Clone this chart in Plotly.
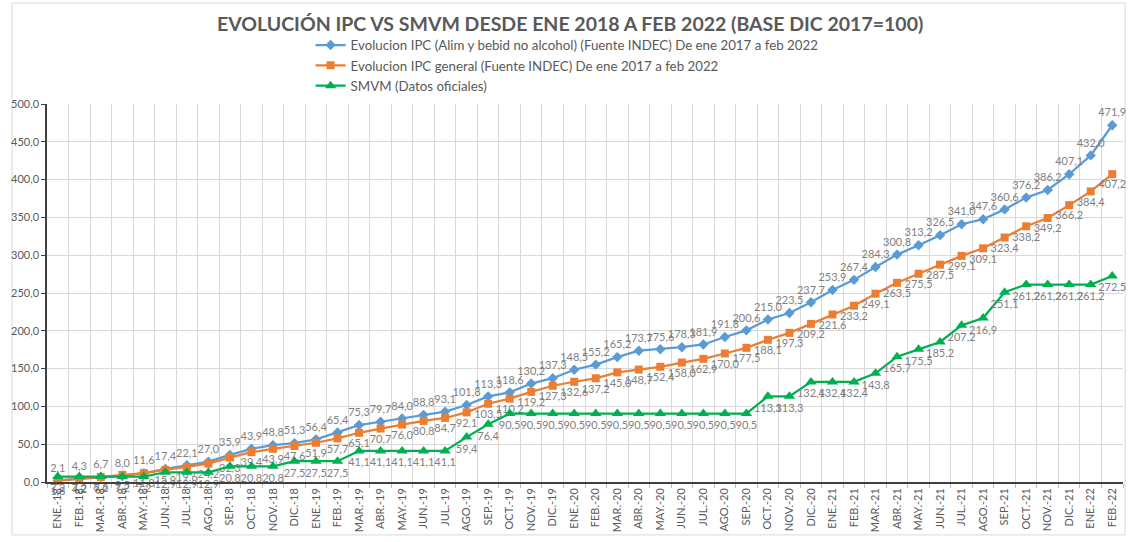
import plotly.graph_objects as go

months = ["ENE.-18","FEB.-18","MAR.-18","ABR.-18","MAY.-18","JUN.-18","JUL.-18","AGO.-18","SEP.-18","OCT.-18","NOV.-18","DIC.-18",
          "ENE.-19","FEB.-19","MAR.-19","ABR.-19","MAY.-19","JUN.-19","JUL.-19","AGO.-19","SEP.-19","OCT.-19","NOV.-19","DIC.-19",
          "ENE.-20","FEB.-20","MAR.-20","ABR.-20","MAY.-20","JUN.-20","JUL.-20","AGO.-20","SEP.-20","OCT.-20","NOV.-20","DIC.-20",
          "ENE.-21","FEB.-21","MAR.-21","ABR.-21","MAY.-21","JUN.-21","JUL.-21","AGO.-21","SEP.-21","OCT.-21","NOV.-21","DIC.-21",
          "ENE.-22","FEB.-22"]

ipc_alim = [2.1, 4.3, 6.7, 8.0, 11.6, 17.4, 22.1, 27.0, 35.9, 43.9, 48.8, 51.3,
            56.4, 65.4, 75.3, 79.7, 84.0, 88.8, 93.1, 101.8, 113.3, 118.6, 130.2, 137.3,
            148.5, 155.2, 165.2, 173.7, 175.6, 178.3, 181.9, 191.8, 200.6, 215.0, 223.5, 237.7,
            253.9, 267.4, 284.3, 300.8, 313.2, 326.5, 341.0, 347.6, 360.6, 376.2, 386.2, 407.1,
            432.0, 471.9]

ipc_general = [1.8, 4.2, 6.6, 9.5, 11.8, 15.9, 19.6, 24.2, 32.3, 39.4, 43.9, 47.6,
               51.9, 57.7, 65.1, 70.7, 76.0, 80.8, 84.7, 92.1, 103.5, 110.2, 119.2, 127.3,
               132.6, 137.2, 145.0, 148.7, 152.4, 158.0, 162.9, 170.0, 177.5, 188.1, 197.3, 209.2,
               221.6, 233.2, 249.1, 263.5, 275.5, 287.5, 299.1, 309.1, 323.4, 338.2, 349.2, 366.2,
               384.4, 407.2]

smvm = [7.2, 7.2, 7.2, 7.2, 7.2, 12.9, 12.9, 12.9, 20.8, 20.8, 20.8, 27.5,
        27.5, 27.5, 41.1, 41.1, 41.1, 41.1, 41.1, 59.4, 76.4, 90.5, 90.5, 90.5,
        90.5, 90.5, 90.5, 90.5, 90.5, 90.5, 90.5, 90.5, 90.5, 113.3, 113.3, 132.4,
        132.4, 132.4, 143.8, 165.7, 175.5, 185.2, 207.2, 216.9, 251.1, 261.2, 261.2, 261.2,
        261.2, 272.5]

names = ["Evolucion IPC (Alim y bebid no alcohol) (Fuente INDEC) De ene 2017 a feb 2022",
         "Evolucion IPC general (Fuente INDEC) De ene 2017 a feb 2022",
         "SMVM (Datos oficiales)"]

def lab(vals):
    return [f"{v:.1f}".replace(".", ",") for v in vals]

FONT = "Lato, Liberation Sans, sans-serif"
LABEL_COLOR = "#7f7f7f"

fig = go.Figure()
fig.add_trace(go.Scatter(x=months, y=ipc_alim, name=names[0], mode="lines+markers+text",
                         line=dict(color="#5B9BD5", width=2.25),
                         marker=dict(symbol="diamond", size=8, color="#5B9BD5"),
                         text=lab(ipc_alim), textposition="top center",
                         textfont=dict(size=11, color=LABEL_COLOR, family=FONT), cliponaxis=False))
fig.add_trace(go.Scatter(x=months, y=ipc_general, name=names[1], mode="lines+markers+text",
                         line=dict(color="#ED7D31", width=2.25),
                         marker=dict(symbol="square", size=8, color="#ED7D31"),
                         text=lab(ipc_general), textposition="bottom center",
                         textfont=dict(size=11, color=LABEL_COLOR, family=FONT), cliponaxis=False))
fig.add_trace(go.Scatter(x=months, y=smvm, name=names[2], mode="lines+markers+text",
                         line=dict(color="#00B050", width=2.25),
                         marker=dict(symbol="triangle-up", size=10, color="#00B050"),
                         text=lab(smvm), textposition="bottom center",
                         textfont=dict(size=11, color=LABEL_COLOR, family=FONT), cliponaxis=False))

fig.update_layout(
    width=1129, height=542,
    margin=dict(l=47, r=6, t=104, b=60),
    paper_bgcolor="white", plot_bgcolor="white",
    separators=",.",
    font=dict(family=FONT, color="#595959"),
    title=dict(text="<b>EVOLUCIÓN IPC VS SMVM DESDE ENE 2018 A FEB 2022 (BASE DIC 2017=100)</b>",
               x=0.505, xanchor="center", y=0.955, yanchor="middle",
               font=dict(size=19.5, color="#595959", family=FONT)),
    legend=dict(x=0.245, xanchor="left", y=1.196, yanchor="top", orientation="v",
                font=dict(size=13.3, color="#595959", family=FONT),
                bgcolor="rgba(0,0,0,0)"),
    showlegend=True,
    xaxis=dict(type="category", range=[-0.5, 49.5], tickson="boundaries",
               tickangle=-90, tickfont=dict(size=11, color="#595959", family=FONT),
               showgrid=True, gridcolor="#d9d9d9", gridwidth=1,
               showline=True, linecolor="#404040", linewidth=1.5,
               ticks="outside", ticklen=4, tickcolor="#bfbfbf", automargin=False),
    yaxis=dict(range=[0, 500], dtick=50, tickformat=".1f",
               tickfont=dict(size=11, color="#595959", family=FONT),
               showgrid=True, gridcolor="#d9d9d9", gridwidth=1,
               showline=True, linecolor="#404040", linewidth=1.5,
               ticks="outside", ticklen=4, tickcolor="#404040", zeroline=False,
               automargin=False),
    shapes=[dict(type="rect", xref="paper", yref="paper",
                 x0=-0.0325, x1=1.002, y0=-0.14, y1=1.267,
                 line=dict(color="#d9d9d9", width=1), layer="below")],
)

fig.write_html("out.html", config={"displayModeBar": False},
               post_script="document.body.style.margin='0';")
